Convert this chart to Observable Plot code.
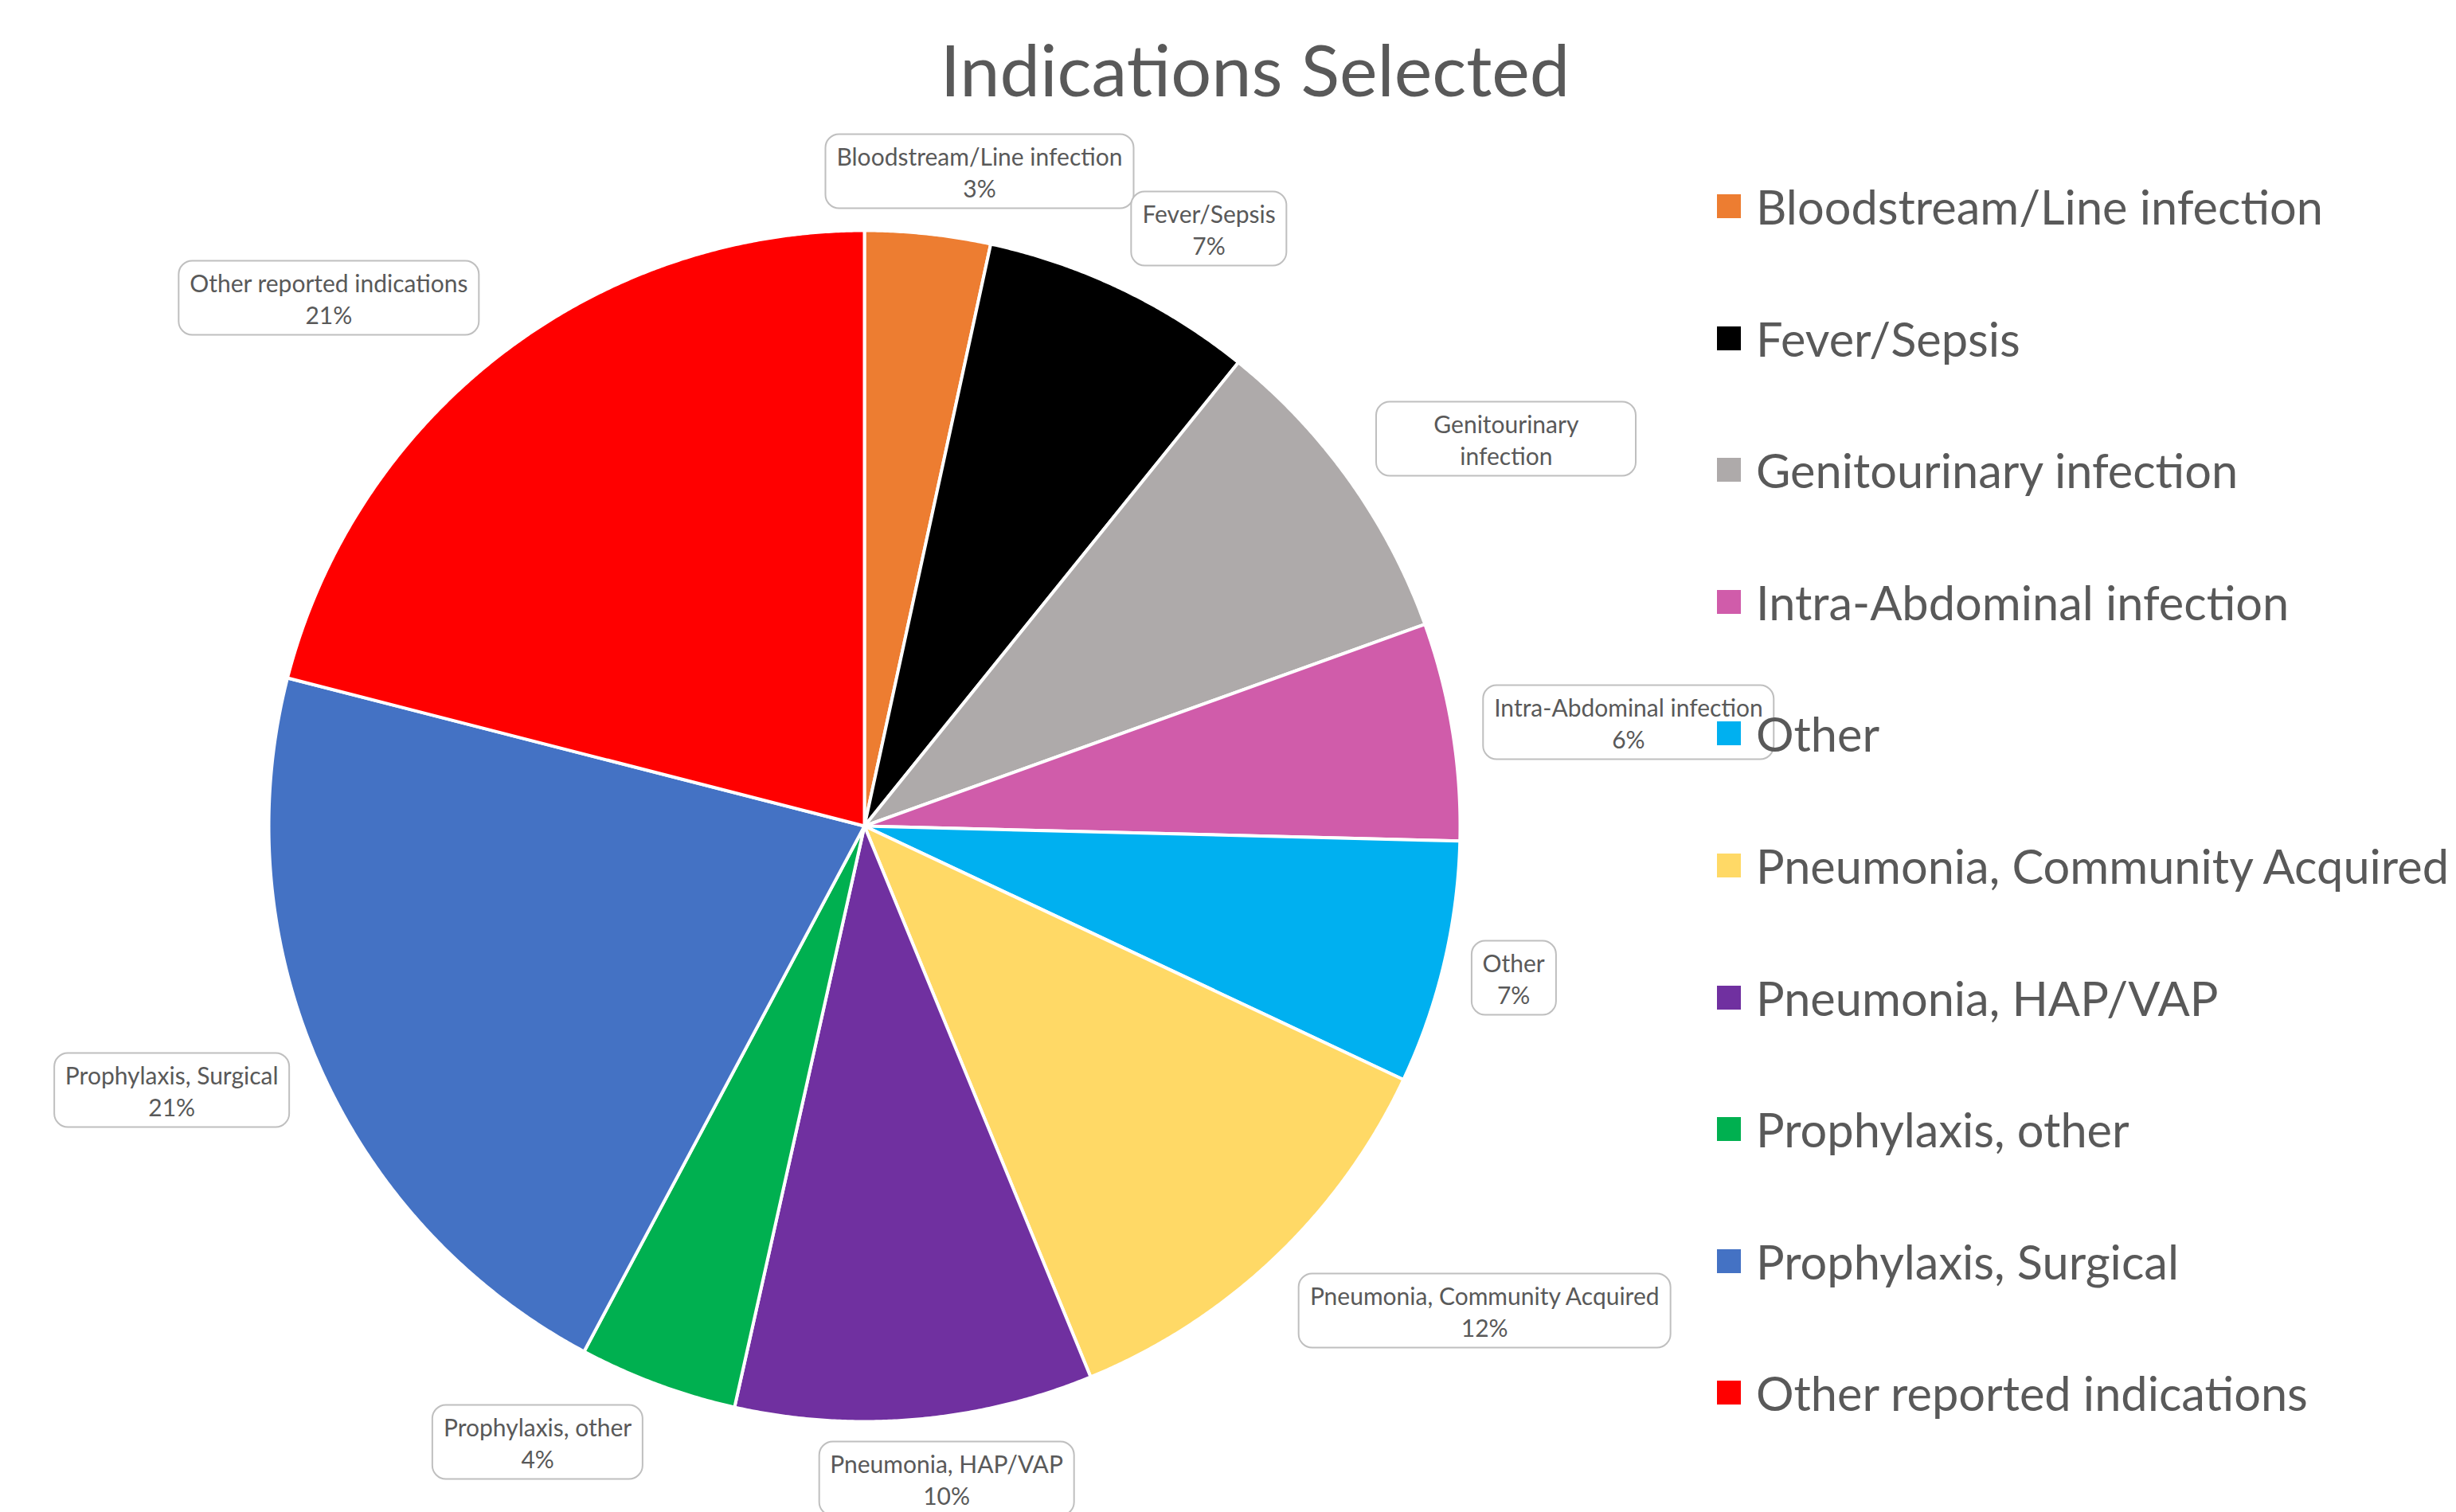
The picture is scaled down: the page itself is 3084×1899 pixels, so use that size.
<!DOCTYPE html>
<html>
<head>
<meta charset="utf-8">
<script src="https://cdn.jsdelivr.net/npm/d3@7"></script>
<script src="https://cdn.jsdelivr.net/npm/@observablehq/plot@0.6"></script>
<style>
  html, body { margin: 0; padding: 0; background: #ffffff; }
  #wrap { position: relative; width: 3084px; height: 1899px; overflow: hidden; font-family: Lato, "Open Sans", sans-serif; color: #595959; }
  #chart { position: absolute; left: 0; top: 0; }
  #title { position: absolute; top: 41px; left: 1576px; transform: translateX(-50%); font-size: 90px; line-height: 1; white-space: nowrap; color: #595959; }
  .lbl { position: absolute; transform: translate(-50%, -50%); box-sizing: border-box; background: #ffffff; border: 2px solid #bfbfbf; border-radius: 18px; padding: 6px 13px 5px; font-size: 30px; line-height: 40px; text-align: center; color: #595959; white-space: nowrap; }
  .lbl.wrap { white-space: normal; }
  .leg { position: absolute; display: flex; align-items: center; height: 80px; font-size: 59.5px; line-height: 80px; color: #595959; white-space: nowrap; }
  .sw { width: 30px; height: 30px; margin-right: 19px; flex: none; }
</style>
</head>
<body>
<div id="wrap">
  <div id="title">Indications Selected</div>
</div>
<script>
// ---- data ----
const categories = [
  "Bloodstream/Line infection",
  "Fever/Sepsis",
  "Genitourinary infection",
  "Intra-Abdominal infection",
  "Other",
  "Pneumonia, Community Acquired",
  "Pneumonia, HAP/VAP",
  "Prophylaxis, other",
  "Prophylaxis, Surgical",
  "Other reported indications"
];
const shares = [3.4, 7.4, 8.7, 5.9, 6.6, 11.8, 9.7, 4.3, 21.2, 21.0];
const colors = ["#ED7D31", "#000000", "#AEAAAA", "#D05CAA", "#00B0F0", "#FFD966", "#7030A0", "#00B050", "#4472C4", "#FF0000"];
const labelShowsValue = [true, true, false, true, true, true, true, true, true, true];

// ---- layout (not data) ----
const W = 3084, H = 1899, CX = 1085, CY = 1037, R = 748;
const labelAngle = [10.0, 30.0, 58.9, 82.3, 103.2, 128.0, 172.8, 207.9, 249.1, 314.6];
const labelRadius = [1.116, 1.158, 1.259, 1.295, 1.120, 1.322, 1.105, 1.171, 1.244, 1.262];
const labelBoxWidth = [null, null, 328, null, null, null, null, null, null, null];

// ---- pie geometry from the data ----
const total = d3.sum(shares);
const arcs = d3.pie().sort(null).value(d => d)(shares);
const outline = [];
categories.forEach((name, i) => {
  const a0 = arcs[i].startAngle, a1 = arcs[i].endAngle;
  const n = Math.max(2, Math.ceil((a1 - a0) / (Math.PI / 720)));
  outline.push({name, x: 0, y: 0});
  for (let k = 0; k <= n; k++) {
    const t = a0 + (a1 - a0) * k / n;
    outline.push({name, x: Math.sin(t), y: Math.cos(t)});
  }
  outline.push({name, x: 0, y: 0});
});

const plot = Plot.plot({
  width: W,
  height: H,
  margin: 0,
  style: {background: "transparent", overflow: "visible"},
  x: {domain: [-CX / R, (W - CX) / R], axis: null},
  y: {domain: [(CY - H) / R, CY / R], axis: null},
  color: {domain: categories, range: colors},
  marks: [
    Plot.line(outline, {x: "x", y: "y", z: "name", fill: "name", stroke: "#ffffff", strokeWidth: 4, strokeLinejoin: "round", curve: "linear"})
  ]
});
plot.id = "chart";
const wrap = document.getElementById("wrap");
wrap.insertBefore(plot, wrap.firstChild);

const sx = plot.scale("x"), sy = plot.scale("y"), sc = plot.scale("color");

// data labels
categories.forEach((name, i) => {
  const a = labelAngle[i] * Math.PI / 180, r = labelRadius[i];
  const div = document.createElement("div");
  div.className = "lbl";
  const pct = Math.round(shares[i] / total * 100) + "%";
  if (labelShowsValue[i]) {
    div.appendChild(document.createTextNode(name));
    div.appendChild(document.createElement("br"));
    div.appendChild(document.createTextNode(pct));
  } else {
    div.textContent = name;
    div.classList.add("wrap");
  }
  if (labelBoxWidth[i]) div.style.width = labelBoxWidth[i] + "px";
  div.style.left = sx.apply(r * Math.sin(a)) + "px";
  div.style.top = sy.apply(r * Math.cos(a)) + "px";
  wrap.appendChild(div);
});

// legend
const legLeft = 2156, legTop = 259, legStep = 165.6;
categories.forEach((name, i) => {
  const row = document.createElement("div");
  row.className = "leg";
  row.style.left = legLeft + "px";
  row.style.top = (legTop + i * legStep - 40) + "px";
  const sw = document.createElement("span");
  sw.className = "sw";
  sw.style.background = sc.apply(name);
  const tx = document.createElement("span");
  tx.textContent = name;
  row.appendChild(sw);
  row.appendChild(tx);
  wrap.appendChild(row);
});
</script>
</body>
</html>
